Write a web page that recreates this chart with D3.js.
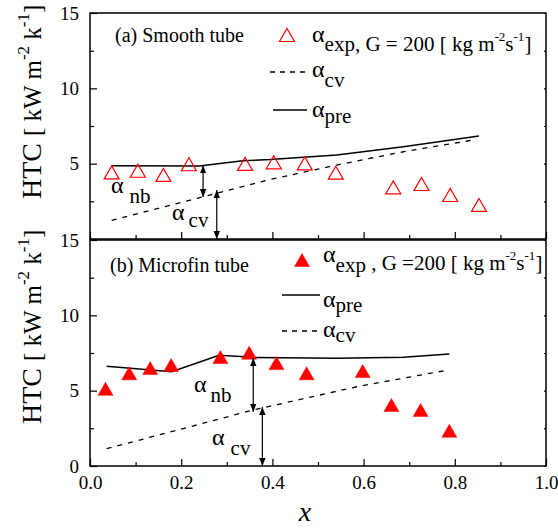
<!DOCTYPE html>
<html>
<head>
<meta charset="utf-8">
<script src="https://cdn.jsdelivr.net/npm/d3@7"></script>
<style>
  body { margin: 0; background: #fff; }
  svg { font-family: "Liberation Serif", "Times New Roman", serif; }
  .tick text { font-family: "Liberation Serif", "Times New Roman", serif; font-size: 19px; fill: #000; }
</style>
</head>
<body>
<div id="chart"></div>
<script>
// (a) smooth tube
var topExpX = [0.0475, 0.105, 0.161, 0.217, 0.340, 0.403, 0.471, 0.539, 0.665, 0.727, 0.790, 0.853];
var topExpY = [4.42, 4.53, 4.25, 4.96, 4.98, 5.09, 5.02, 4.40, 3.43, 3.65, 2.92, 2.26];
var topPreX = [0.0475, 0.24, 0.335, 0.395, 0.541, 0.687, 0.853];
var topPreY = [4.86, 4.84, 5.20, 5.27, 5.57, 6.12, 6.83];
var topCvX = [0.0475, 0.22, 0.395, 0.541, 0.687, 0.848];
var topCvY = [1.24, 2.58, 3.95, 4.91, 5.79, 6.61];

// (b) microfin tube
var botExpX = [0.034, 0.086, 0.132, 0.178, 0.286, 0.349, 0.409, 0.475, 0.598, 0.661, 0.725, 0.788];
var botExpY = [5.12, 6.15, 6.50, 6.70, 7.23, 7.52, 6.83, 6.15, 6.30, 4.05, 3.72, 2.34];
var botPreX = [0.0365, 0.179, 0.283, 0.358, 0.541, 0.687, 0.788];
var botPreY = [6.62, 6.26, 7.35, 7.21, 7.15, 7.21, 7.43];
var botCvX = [0.0365, 0.2, 0.358, 0.585, 0.778];
var botCvY = [1.15, 2.45, 3.72, 5.26, 6.33];

// ticks
var xMajor = [0, 0.2, 0.4, 0.6, 0.8, 1.0];
var xMinor = [0.1, 0.3, 0.5, 0.7, 0.9];
var yMajor = [0, 5, 10, 15];
var yMinor = [2.5, 7.5, 12.5];

// double arrows [x, yFrom, yTo]
var topArrows = [[0.248, 4.88, 2.79], [0.278, 3.25, 0]];
var botArrows = [[0.358, 7.17, 3.6], [0.378, 3.92, 0]];

var width = 558, height = 529;
var left = 90, right = 546;
var panels = [
    { top: 13, bottom: 239, name: "(a) Smooth tube", open: true,
      expX: topExpX, expY: topExpY, preX: topPreX, preY: topPreY, cvX: topCvX, cvY: topCvY,
      arrows: topArrows, yLabels: [5, 10, 15], xLabels: false },
    { top: 240, bottom: 466, name: "(b) Microfin tube", open: false,
      expX: botExpX, expY: botExpY, preX: botPreX, preY: botPreY, cvX: botCvX, cvY: botCvY,
      arrows: botArrows, yLabels: [0, 5, 10, 15], xLabels: true }
];

var x = d3.scaleLinear().domain([0, 1]).range([left, right]);

var svg = d3.select("#chart").append("svg")
    .attr("width", width)
    .attr("height", height);

var defs = svg.append("defs");
defs.append("marker")
    .attr("id", "head")
    .attr("viewBox", "0 0 10 10")
    .attr("refX", 10)
    .attr("refY", 5)
    .attr("markerWidth", 8)
    .attr("markerHeight", 8)
    .attr("markerUnits", "userSpaceOnUse")
    .attr("orient", "auto-start-reverse")
    .append("path")
    .attr("d", "M0,1 L10,5 L0,9 Z")
    .attr("fill", "#000");

var triSide = 15;
var triSize = Math.sqrt(3) / 4 * triSide * triSide;
var triShift = Math.sqrt(triSize / (Math.sqrt(3) * 3)) / 2; // centroid -> box centre
var tri = d3.symbol().type(d3.symbolTriangle).size(triSize);

function zip(a, b) { return a.map(function (v, i) { return [v, b[i]]; }); }

panels.forEach(function (p, k) {
    var y = d3.scaleLinear().domain([0, 15]).range([p.bottom, p.top]);
    var g = svg.append("g");

    // bottom ticks
    g.append("g")
        .attr("transform", "translate(0," + p.bottom + ")")
        .call(d3.axisBottom(x).tickValues(xMajor).tickSize(-7).tickPadding(10)
            .tickFormat(p.xLabels ? d3.format(".1f") : ""))
        .call(function (a) { a.select(".domain").remove(); });
    g.append("g")
        .attr("transform", "translate(0," + p.bottom + ")")
        .call(d3.axisBottom(x).tickValues(xMinor).tickSize(-4).tickFormat(""))
        .call(function (a) { a.select(".domain").remove(); });

    // left ticks
    g.append("g")
        .attr("transform", "translate(" + left + ",0)")
        .call(d3.axisLeft(y).tickValues(yMajor).tickSize(-7).tickPadding(11)
            .tickFormat(function (d) { return p.yLabels.indexOf(d) >= 0 ? d : ""; }))
        .call(function (a) { a.select(".domain").remove(); });
    g.append("g")
        .attr("transform", "translate(" + left + ",0)")
        .call(d3.axisLeft(y).tickValues(yMinor).tickSize(-4).tickFormat(""))
        .call(function (a) { a.select(".domain").remove(); });

    // right ticks (tiny)
    g.append("g")
        .attr("transform", "translate(" + right + ",0)")
        .call(d3.axisRight(y).tickValues(yMajor.concat(yMinor)).tickSize(-2).tickFormat(""))
        .call(function (a) { a.select(".domain").remove(); });

    g.selectAll(".tick line").attr("stroke", "#000").attr("stroke-width", 1.2);

    // frame
    g.append("rect")
        .attr("x", left)
        .attr("y", p.top)
        .attr("width", right - left)
        .attr("height", p.bottom - p.top)
        .attr("fill", "none")
        .attr("stroke", "#000")
        .attr("stroke-width", 1.5);

    var line = d3.line().x(function (d) { return x(d[0]); }).y(function (d) { return y(d[1]); });

    g.append("path")
        .datum(zip(p.cvX, p.cvY))
        .attr("d", line)
        .attr("fill", "none")
        .attr("stroke", "#000")
        .attr("stroke-width", 1.3)
        .attr("stroke-dasharray", "5,6");

    g.append("path")
        .datum(zip(p.preX, p.preY))
        .attr("d", line)
        .attr("fill", "none")
        .attr("stroke", "#000")
        .attr("stroke-width", 1.5);

    g.selectAll(".exp")
        .data(zip(p.expX, p.expY))
        .enter().append("path")
        .attr("class", "exp")
        .attr("d", tri)
        .attr("transform", function (d) { return "translate(" + x(d[0]) + "," + (y(d[1]) + triShift) + ")"; })
        .attr("fill", p.open ? "none" : "#f00")
        .attr("stroke", "#f00")
        .attr("stroke-width", p.open ? 1.2 : 0.5);

    // arrows
    g.selectAll(".arrow")
        .data(p.arrows)
        .enter().append("line")
        .attr("class", "arrow")
        .attr("x1", function (d) { return x(d[0]); })
        .attr("x2", function (d) { return x(d[0]); })
        .attr("y1", function (d) { return y(d[1]); })
        .attr("y2", function (d) { return y(d[2]); })
        .attr("stroke", "#000")
        .attr("stroke-width", 1.2)
        .attr("marker-start", "url(#head)")
        .attr("marker-end", "url(#head)");

    // panel title
    g.append("text")
        .attr("x", k === 0 ? 115 : 110)
        .attr("y", k === 0 ? 42 : 272)
        .attr("font-size", 20)
        .text(p.name);

    // y label
    var lab = g.append("text")
        .attr("transform", "translate(41," + (k === 0 ? 199 : 424) + ") rotate(-90)")
        .attr("font-size", 28);
    lab.append("tspan").text("HTC ");
    lab.append("tspan").attr("font-size", 25).text("[ kW m");
    lab.append("tspan").attr("font-size", 17).attr("dy", -12).text("-2");
    lab.append("tspan").attr("font-size", 25).attr("dy", 12).text(" k");
    lab.append("tspan").attr("font-size", 17).attr("dy", -12).text("-1");
    lab.append("tspan").attr("font-size", 25).attr("dy", 12).text("]");
});

// annotations alpha_nb, alpha_cv
function alphaLabel(xp, yp, sub, dx, dy) {
    var t = svg.append("text").attr("x", xp).attr("y", yp).attr("font-size", 24);
    t.append("tspan").text("\u03b1");
    t.append("tspan").attr("dx", dx).attr("dy", dy).attr("font-size", 21).text(sub);
}
alphaLabel(111, 193, "nb", 6, 10);
alphaLabel(172, 220, "cv", 4, 7);
alphaLabel(194, 392, "nb", 4, 10);
alphaLabel(212, 445, "cv", 6, 10);

// legends
function legendText(xp, yp, sub, dy, rest) {
    var t = svg.append("text").attr("x", xp).attr("y", yp).attr("font-size", 24);
    t.append("tspan").text("\u03b1");
    t.append("tspan").attr("dy", dy).attr("font-size", 21).text(sub);
    if (rest) {
        t.append("tspan").attr("dy", rest.dy).attr("font-size", 21).text(rest.text);
        t.append("tspan").attr("dy", -10).attr("font-size", 13).text("-2");
        t.append("tspan").attr("dy", 10).attr("font-size", 21).text("s");
        t.append("tspan").attr("dy", -10).attr("font-size", 13).text("-1");
        t.append("tspan").attr("dy", 10).attr("font-size", 21).text("]");
    }
}

// top legend
svg.append("path").attr("d", tri)
    .attr("transform", "translate(287," + (35 + triShift) + ")")
    .attr("fill", "none").attr("stroke", "#f00").attr("stroke-width", 1.2);
legendText(312, 42, "exp,", 9, { dy: 0, text: " G = 200 [ kg m" });
svg.append("line").attr("x1", 270).attr("x2", 307).attr("y1", 72).attr("y2", 72)
    .attr("stroke", "#000").attr("stroke-width", 1.3).attr("stroke-dasharray", "5,5");
legendText(312, 77, "cv", 10);
svg.append("line").attr("x1", 273).attr("x2", 307).attr("y1", 110).attr("y2", 110)
    .attr("stroke", "#000").attr("stroke-width", 1.5);
legendText(312, 117, "pre", 6);

// bottom legend
svg.append("path").attr("d", tri)
    .attr("transform", "translate(302," + (260 + triShift) + ")")
    .attr("fill", "#f00").attr("stroke", "#f00").attr("stroke-width", 0.5);
legendText(323, 262, "exp", 10, { dy: -2, text: " , G =200 [ kg m" });
svg.append("line").attr("x1", 282).attr("x2", 320).attr("y1", 295).attr("y2", 295)
    .attr("stroke", "#000").attr("stroke-width", 1.5);
legendText(323, 307, "pre", 5);
svg.append("line").attr("x1", 282).attr("x2", 320).attr("y1", 331).attr("y2", 331)
    .attr("stroke", "#000").attr("stroke-width", 1.3).attr("stroke-dasharray", "5,5");
legendText(323, 337, "cv", 5);

// x label
svg.append("text")
    .attr("x", 305)
    .attr("y", 521)
    .attr("text-anchor", "middle")
    .attr("font-size", 28)
    .attr("font-style", "italic")
    .text("x");
</script>
</body>
</html>
